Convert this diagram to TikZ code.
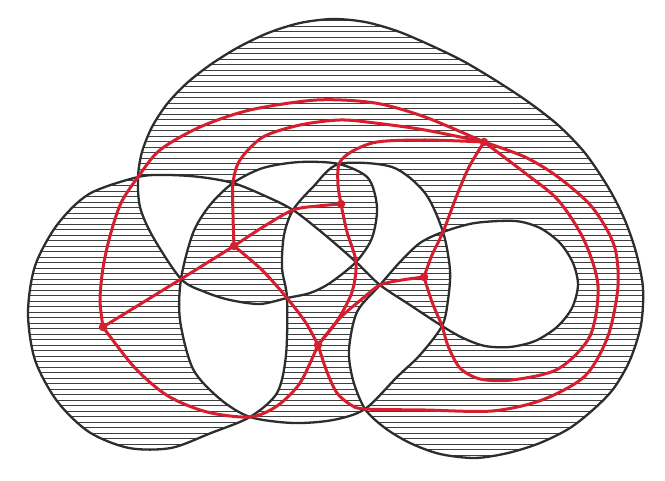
\documentclass[tikz,border=0pt]{standalone}
\usepackage{tikz}
\definecolor{ink}{RGB}{42,46,44}
\definecolor{hatchgrey}{RGB}{60,64,62}
\definecolor{penred}{RGB}{214,30,46}

\begin{document}
\begin{tikzpicture}[x=1pt, y=-1pt,
    loopline/.style={draw=ink, line width=2.3pt, line join=round},
    hatchline/.style={draw=hatchgrey, line width=0.9pt},
    redline/.style={draw=penred, line width=3pt, line cap=round, line join=round},
    vdot/.style={circle, fill=penred, inner sep=0pt, minimum size=8.5pt}]
\useasboundingbox (0,0) rectangle (665,481);
\coordinate (p1) at (138,177);
\coordinate (p2) at (233,183);
\coordinate (p3) at (293,210);
\coordinate (p4) at (181,279);
\coordinate (p5) at (356,262);
\coordinate (p6) at (287,298);
\coordinate (p7) at (250,417);
\coordinate (p8) at (380,285);
\coordinate (p10) at (442,326);
\coordinate (p11) at (443,232);
\coordinate (p12) at (365,409);
\coordinate (p13) at (339,164);
\coordinate (v1) at (103,327);
\coordinate (v2) at (234,246);
\coordinate (v3) at (341,204);
\coordinate (v4) at (318,345);
\coordinate (v5) at (424,277);
\coordinate (v6) at (484,142);

\def\curveroute{plot[smooth cycle] coordinates {
  (p1) (142,152) (152,127) (167,104) (187,83) (210,65) (237,48) (268,33)
  (300,23) (333,19) (365,22) (397,31) (430,45) (463,61) (495,80) (527,101)
  (558,125) (585,153) (608,187) (624,218) (636,252) (643,288) (641,325)
  (630,360) (614,388) (595,408) (570,428) (540,443) (508,453) (475,458)
  (440,454) (410,443) (385,428) (p12)
  (353,380) (349,350) (357,312) (p8)
  (400,262) (420,243) (p11)
  (475,223) (515,221) (540,228) (560,243) (573,263) (578,285) (572,308)
  (557,327) (535,341) (510,347) (485,346) (463,338) (p10)
  (410,305) (p8) (p5)
  (325,235) (p3)
  (263,195) (p2)
  (200,177) (167,175) (p1)
  (89,194) (57,225) (35,266) (28,313) (35,360) (57,401) (89,432) (129,448)
  (171,448) (211,433) (p7)
  (277,393) (286,355) (p6)
  (282,268) (284,235) (p3)
  (313,187) (p13)
  (392,167) (425,193) (p11)
  (450,270) (448,300) (p10)
  (420,355) (397,377) (p12)
  (333,420) (293,423) (p7)
  (220,399) (193,369) (180,320) (p4)
  (193,233) (210,205) (p2)
  (263,168) (300,162) (p13)
  (368,178) (377,207) (372,238) (p5)
  (330,283) (310,293) (p6)
  (260,304) (230,300) (205,292) (p4)
  (153,237) (140,207)}}

\begin{scope}[even odd rule]
  \clip \curveroute;
  \foreach \y in {15,20.5,...,470}
    \draw[hatchline] (0,\y) -- (665,\y);
\end{scope}
\draw[loopline] \curveroute;

\draw[redline] plot[smooth] coordinates {(v1) (p4) (v2)};
\draw[redline] plot[smooth] coordinates {(v1) (100,300) (103,268) (110,236) (121,203) (p1) (160,150) (200,127) (250,110) (317,100) (375,103) (425,117) (v6)};
\draw[redline] plot[smooth] coordinates {(v1) (135,368) (168,396) (207,412) (p7) (277,406) (300,383) (v4)};
\draw[redline] plot[smooth] coordinates {(v2) (233,215) (p2) (240,160) (263,137) (300,125) (340,120) (375,123) (425,130) (v6)};
\draw[redline] plot[smooth] coordinates {(v2) (263,227) (p3) (318,206) (v3)};
\draw[redline] plot[smooth] coordinates {(v2) (262,270) (p6) (306,323) (v4)};
\draw[redline] plot[smooth] coordinates {(v3) (338,185) (p13) (351,152) (377,142) (425,140) (v6)};
\draw[redline] plot[smooth] coordinates {(v3) (347,232) (p5) (352,292) (337,321) (v4)};
\draw[redline] plot[smooth] coordinates {(v4) (340,318) (362,299) (p8) (402,280) (v5)};
\draw[redline] plot[smooth] coordinates {(v4) (327,372) (337,393) (351,405) (p12) (425,410) (492,411) (542,400) (585,376) (608,336) (618,286) (614,245) (592,207) (558,177) (525,157) (v6)};
\draw[redline] plot[smooth] coordinates {(v5) (432,255) (p11) (457,195) (469,167) (v6)};
\draw[redline] plot[smooth] coordinates {(v5) (432,302) (p10) (448,346) (460,368) (480,379) (512,380) (558,369) (590,336) (598,286) (584,240) (558,200) (525,173) (v6)};

\node[vdot] (d1) at (v1) {};
\node[vdot] (d2) at (v2) {};
\node[vdot] (d3) at (v3) {};
\node[vdot] (d4) at (v4) {};
\node[vdot] (d5) at (v5) {};
\node[vdot] (d6) at (v6) {};
\end{tikzpicture}
\end{document}
